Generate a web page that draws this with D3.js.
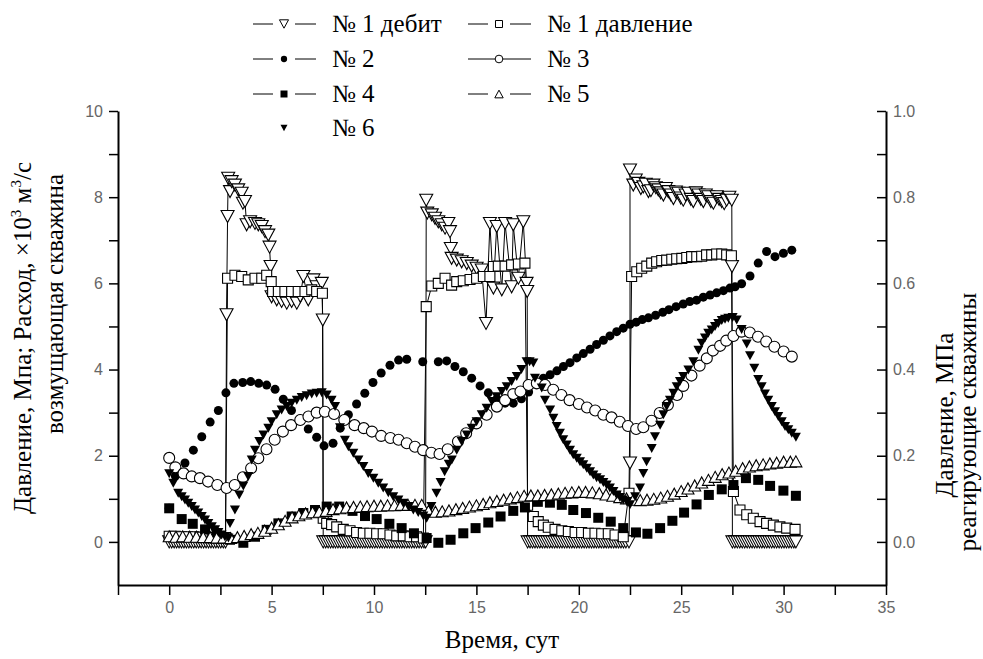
<!DOCTYPE html>
<html>
<head>
<meta charset="utf-8">
<script src="https://cdn.jsdelivr.net/npm/d3@7"></script>
</head>
<body style="margin:0">
<svg id="plot" width="983" height="659"></svg>
<script>
// Disturbing well No 1: debit (x10^3 m3/s) and pressure (MPa), left axis
const debit1 = [
  [0,0],[0.12,0],[0.24,0],[0.36,0],[0.48,0],[0.6,0],[0.72,0],[0.84,0],[0.96,0],[1.08,0],[1.2,0],[1.32,0],[1.44,0],
  [1.56,0],[1.68,0],[1.8,0],[1.92,0],[2.04,0],[2.16,0],[2.28,0],[2.4,0],[2.52,0],[2.64,0],[2.75,0],
  [2.8,5.27],[2.85,7.55],[2.88,8.44],[2.97,8.13],[3.05,8.36],[3.21,8.28],[3.37,8.17],[3.54,8.09],[3.6,7.86],[3.7,7.9],
  [3.78,7.36],[3.95,7.43],[4.19,7.39],[4.35,7.36],[4.52,7.32],[4.68,7.2],[4.84,7.12],[4.9,6.84],[4.95,6.39],[5.0,5.69],
  [5.25,5.62],[5.49,5.58],[5.74,5.54],[5.98,5.58],[6.23,5.54],[6.4,5.7],[6.55,6.16],[6.79,5.62],[7.04,6.08],[7.2,5.92],
  [7.45,6.0],[7.5,5.15],
  [7.52,0],[7.64,0],[7.76,0],[7.88,0],[8.0,0],[8.12,0],[8.24,0],[8.36,0],[8.48,0],[8.6,0],[8.72,0],[8.84,0],[8.96,0],
  [9.08,0],[9.2,0],[9.32,0],[9.44,0],[9.56,0],[9.68,0],[9.8,0],[9.92,0],[10.04,0],[10.16,0],[10.28,0],[10.4,0],
  [10.52,0],[10.64,0],[10.76,0],[10.88,0],[11.0,0],[11.12,0],[11.24,0],[11.36,0],[11.48,0],[11.6,0],[11.72,0],
  [11.84,0],[11.96,0],[12.08,0],[12.2,0],[12.32,0],[12.44,0],[12.52,0],
  [12.55,7.93],[12.6,7.63],[12.82,7.59],[12.98,7.51],[13.14,7.43],[13.31,7.36],[13.47,7.28],[13.63,7.39],[13.71,7.2],
  [13.75,6.81],[13.79,6.58],[14.04,6.54],[14.28,6.5],[14.53,6.46],[14.77,6.4],[15.01,6.35],[15.26,6.31],[15.47,5.07],
  [15.66,7.39],[15.83,5.89],[15.99,7.32],[16.24,5.85],[16.4,7.39],[16.72,5.92],[16.8,7.36],[17.05,6.12],[17.29,7.43],
  [17.45,6.0],[17.48,5.81],
  [17.5,0],[17.62,0],[17.74,0],[17.86,0],[17.98,0],[18.1,0],[18.22,0],[18.34,0],[18.46,0],[18.58,0],[18.7,0],
  [18.82,0],[18.94,0],[19.06,0],[19.18,0],[19.3,0],[19.42,0],[19.54,0],[19.66,0],[19.78,0],[19.9,0],[20.02,0],
  [20.14,0],[20.26,0],[20.38,0],[20.5,0],[20.62,0],[20.74,0],[20.86,0],[20.98,0],[21.1,0],[21.22,0],[21.34,0],
  [21.46,0],[21.58,0],[21.7,0],[21.82,0],[21.94,0],[22.06,0],[22.18,0],[22.3,0],[22.45,0],
  [22.5,1.83],[22.5,8.63],[22.66,8.28],[22.78,8.4],[22.91,8.32],[23.03,8.2],[23.15,8.24],[23.27,8.3],[23.4,8.13],[23.52,8.15],
  [23.64,8.28],[23.76,8.22],[23.88,8.17],[24.0,8.1],[24.13,8.05],[24.25,8.2],[24.37,8.13],[24.5,8.05],[24.62,7.97],[24.74,8.12],
  [24.86,8.09],[24.98,7.98],[25.1,7.93],[25.22,8.05],[25.35,8.09],[25.47,7.95],[25.59,7.9],[25.72,8.1],[25.84,8.05],[25.96,7.95],
  [26.08,7.9],[26.2,8.05],[26.32,8.01],[26.45,7.9],[26.57,7.86],[26.73,8.01],[26.85,7.95],[26.98,7.9],[27.1,7.85],[27.22,7.93],
  [27.35,8.0],[27.47,7.93],[27.48,6.39],
  [27.5,0],[27.62,0],[27.74,0],[27.86,0],[27.98,0],[28.1,0],[28.22,0],[28.34,0],[28.46,0],[28.58,0],[28.7,0],
  [28.82,0],[28.94,0],[29.06,0],[29.18,0],[29.3,0],[29.42,0],[29.54,0],[29.66,0],[29.78,0],[29.9,0],[30.02,0],
  [30.14,0],[30.26,0],[30.38,0],[30.5,0],[30.6,0]
];

const pressure1 = [
  [0,0.13],[0.3,0.13],[0.6,0.12],[0.9,0.12],[1.2,0.12],[1.5,0.11],[1.8,0.11],[2.1,0.1],[2.4,0.1],[2.75,0.1],
  [2.85,6.12],[3.21,6.19],[3.54,6.16],[3.86,6.08],[4.19,6.12],[4.52,6.12],[4.76,6.19],[4.98,6.04],[5.05,5.81],[5.33,5.81],
  [5.65,5.81],[5.98,5.81],[6.3,5.81],[6.63,5.81],[6.96,5.85],[7.2,5.81],[7.48,5.77],
  [7.52,0.55],[7.69,0.43],[7.93,0.4],[8.18,0.35],[8.5,0.29],[8.83,0.26],[9.15,0.22],[9.48,0.2],[9.8,0.2],[10.13,0.19],
  [10.45,0.19],[10.78,0.16],[11.11,0.14],[11.43,0.14],[11.76,0.12],[12.08,0.12],[12.41,0.09],
  [12.55,5.46],[12.82,5.94],[13.14,6.0],[13.47,6.12],[13.79,5.96],[14.04,6.04],[14.36,6.06],[14.69,6.09],[15.01,6.12],
  [15.34,6.16],[15.66,6.16],[15.83,6.39],[16.07,6.4],[16.4,6.4],[16.72,6.43],[17.05,6.45],[17.37,6.47],
  [17.5,0.85],[17.78,0.59],[18.02,0.47],[18.27,0.39],[18.51,0.34],[18.84,0.29],[19.17,0.26],[19.49,0.24],[19.82,0.22],
  [20.14,0.22],[20.47,0.2],[20.79,0.2],[21.12,0.19],[21.44,0.19],[21.77,0.16],[22.17,0.12],
  [22.45,1.13],[22.58,6.16],[22.83,6.27],[23.07,6.35],[23.32,6.4],[23.56,6.47],[23.8,6.5],[24.05,6.53],[24.29,6.54],
  [24.54,6.56],[24.78,6.57],[25.03,6.58],[25.27,6.6],[25.51,6.62],[25.76,6.62],[26.0,6.63],[26.24,6.66],[26.49,6.66],
  [26.73,6.68],[26.98,6.68],[27.22,6.66],[27.45,6.64],
  [27.55,1.17],[27.87,0.74],[28.2,0.63],[28.52,0.55],[28.85,0.47],[29.17,0.43],[29.5,0.39],[29.82,0.35],[30.15,0.32],[30.56,0.29]
];

// Responding wells, pressure in MPa, right axis
const well2 = [
  [0,0.078],[0.3,0.153],[0.77,0.183],[1.18,0.213],[1.59,0.244],[2.0,0.278],[2.4,0.305],[2.77,0.346],[3.16,0.368],
  [3.59,0.37],[3.98,0.372],[4.37,0.368],[4.76,0.364],[5.17,0.354],[5.57,0.331],[5.97,0.305],[6.38,0.285],[6.79,0.262],
  [7.2,0.243],[7.56,0.223],[8.0,0.229],[8.35,0.264],[8.75,0.295],[9.15,0.32],[9.55,0.345],[9.95,0.37],[10.35,0.392],
  [10.78,0.41],[11.2,0.422],[11.6,0.424],[12.38,0.418],[13.14,0.418],[13.55,0.42],[13.95,0.407],[14.36,0.395],
  [14.77,0.38],[15.18,0.362],[15.58,0.346],[16.0,0.332],[16.4,0.322],[16.8,0.322],[17.2,0.332],[17.55,0.348],
  [17.9,0.365],[18.27,0.38],[18.6,0.388],[18.93,0.397],[19.25,0.407],[19.57,0.416],[19.9,0.427],[20.22,0.437],
  [20.55,0.447],[20.87,0.458],[21.2,0.468],[21.52,0.478],[21.85,0.488],[22.17,0.496],[22.5,0.505],[22.8,0.51],
  [23.1,0.516],[23.4,0.52],[23.75,0.526],[24.1,0.533],[24.4,0.539],[24.75,0.546],[25.1,0.552],[25.42,0.558],
  [25.75,0.561],[26.08,0.568],[26.41,0.573],[26.73,0.578],[27.06,0.583],[27.38,0.589],[27.63,0.592],[27.95,0.599],
  [28.36,0.617],[28.76,0.647],[29.17,0.674],[29.58,0.662],[29.99,0.67],[30.4,0.677]
];

const well3 = [
  [0,0.195],[0.3,0.173],[0.7,0.159],[1.1,0.152],[1.5,0.148],[1.9,0.14],[2.35,0.132],[2.8,0.125],[3.2,0.132],[3.6,0.15],
  [4.0,0.171],[4.35,0.194],[4.75,0.215],[5.15,0.237],[5.55,0.256],[5.95,0.271],[6.4,0.283],[6.8,0.291],[7.2,0.3],
  [7.6,0.302],[8.05,0.297],[8.55,0.283],[9.05,0.271],[9.5,0.264],[9.9,0.256],[10.35,0.246],[10.8,0.241],[11.2,0.237],
  [11.6,0.229],[12.0,0.221],[12.4,0.213],[12.8,0.207],[13.2,0.204],[13.6,0.215],[14.1,0.233],[14.5,0.252],[15.0,0.275],
  [15.5,0.295],[16.0,0.314],[16.4,0.329],[16.8,0.343],[17.15,0.349],[17.55,0.364],[17.95,0.368],[18.35,0.364],
  [18.75,0.353],[19.15,0.341],[19.55,0.329],[20.0,0.32],[20.4,0.312],[20.8,0.305],[21.2,0.295],[21.6,0.289],[22.0,0.279],
  [22.4,0.269],[22.8,0.262],[23.15,0.266],[23.55,0.281],[23.95,0.299],[24.35,0.318],[24.8,0.341],[25.1,0.362],
  [25.5,0.386],[25.9,0.409],[26.25,0.426],[26.55,0.444],[26.9,0.455],[27.2,0.467],[27.55,0.478],[27.95,0.488],
  [28.35,0.486],[28.75,0.476],[29.15,0.465],[29.55,0.453],[30.0,0.442],[30.4,0.43]
];

const well4 = [
  [0,0.078],[0.61,0.053],[1.15,0.042],[1.75,0.029],[2.32,0.02],[2.97,0.005],[3.62,-0.002],[4.19,0.012],[4.76,0.028],
  [5.33,0.043],[5.98,0.059],[6.55,0.067],[7.12,0.074],[7.69,0.082],[8.3,0.082],[8.95,0.072],[9.56,0.06],[10.13,0.053],
  [10.75,0.042],[11.35,0.032],[11.95,0.02],[12.57,0.009],[13.14,-0.002],[13.74,0.005],[14.36,0.02],[14.96,0.032],
  [15.58,0.045],[16.18,0.059],[16.8,0.072],[17.37,0.08],[18.0,0.093],[18.59,0.091],[19.17,0.086],[19.73,0.074],
  [20.35,0.067],[20.95,0.056],[21.56,0.047],[22.17,0.032],[22.79,0.022],[23.35,0.019],[23.97,0.032],[24.57,0.049],
  [25.14,0.068],[25.75,0.087],[26.35,0.109],[26.98,0.122],[27.55,0.132],[28.16,0.148],[28.76,0.144],[29.34,0.13],
  [29.99,0.119],[30.6,0.107]
];

const well5 = [
  [0,0.013],[0.33,0.012],[0.66,0.013],[1.0,0.012],[1.33,0.012],[1.66,0.011],[2.0,0.011],[2.33,0.01],[2.66,0.01],
  [3.0,0.009],[3.33,0.011],[3.66,0.014],[4.0,0.018],[4.33,0.021],[4.66,0.026],[5.0,0.033],[5.33,0.041],[5.66,0.049],
  [6.0,0.057],[6.33,0.062],[6.66,0.066],[7.0,0.069],[7.33,0.07],[7.66,0.072],[8.0,0.076],[8.33,0.078],[8.66,0.08],
  [9.0,0.081],[9.33,0.082],[9.66,0.083],[10.0,0.084],[10.33,0.084],[10.66,0.085],[11.0,0.085],[11.33,0.086],
  [11.66,0.086],[12.0,0.086],[12.33,0.086],[12.66,0.072],[13.0,0.07],[13.33,0.071],[13.66,0.073],[14.0,0.076],
  [14.33,0.079],[14.66,0.082],[15.0,0.085],[15.33,0.088],[15.66,0.092],[16.0,0.095],[16.33,0.098],[16.66,0.101],
  [17.0,0.104],[17.33,0.107],[17.66,0.108],[18.0,0.108],[18.33,0.109],[18.66,0.11],[19.0,0.112],[19.33,0.114],
  [19.66,0.115],[20.0,0.116],[20.33,0.116],[20.66,0.115],[21.0,0.113],[21.33,0.11],[21.66,0.107],[22.0,0.104],
  [22.33,0.101],[22.66,0.098],[23.0,0.097],[23.33,0.098],[23.66,0.1],[24.0,0.103],[24.33,0.107],[24.66,0.112],
  [25.0,0.118],[25.33,0.124],[25.66,0.131],[26.0,0.138],[26.33,0.144],[26.66,0.151],[27.0,0.157],[27.33,0.161],
  [27.66,0.165],[28.0,0.171],[28.33,0.175],[28.66,0.178],[29.0,0.18],[29.33,0.182],[29.66,0.184],[30.0,0.186],
  [30.33,0.186],[30.6,0.187]
];

const well6 = [
  [0,0.158],[0.2,0.136],[0.44,0.113],[0.61,0.105],[0.77,0.097],[0.93,0.09],[1.1,0.082],[1.26,0.074],[1.42,0.067],
  [1.59,0.059],[1.75,0.051],[1.91,0.043],[2.08,0.035],[2.24,0.028],[2.4,0.022],[2.56,0.016],[2.72,0.012],[2.89,0.009],
  [2.97,0.043],[3.21,0.074],[3.42,0.109],[3.62,0.13],[3.86,0.152],[4.03,0.19],[4.19,0.213],[4.4,0.233],[4.6,0.248],
  [4.84,0.264],[5.0,0.279],[5.25,0.295],[5.49,0.306],[5.74,0.314],[5.98,0.322],[6.23,0.329],[6.47,0.335],[6.71,0.339],
  [6.96,0.343],[7.2,0.345],[7.45,0.346],[7.69,0.341],[7.93,0.329],[8.1,0.314],[8.34,0.265],[8.58,0.236],[8.75,0.221],
  [8.99,0.206],[9.24,0.19],[9.48,0.175],[9.72,0.159],[9.97,0.148],[10.21,0.136],[10.45,0.125],[10.7,0.114],
  [10.94,0.105],[11.19,0.097],[11.43,0.09],[11.68,0.082],[11.92,0.074],[12.16,0.068],[12.41,0.06],[12.57,0.055],
  [12.8,0.082],[13.05,0.113],[13.25,0.138],[13.45,0.163],[13.65,0.18],[13.8,0.19],[14.04,0.213],[14.28,0.233],
  [14.53,0.248],[14.77,0.264],[15.01,0.279],[15.26,0.295],[15.5,0.31],[15.75,0.326],[15.99,0.337],[16.24,0.349],
  [16.48,0.36],[16.72,0.372],[16.97,0.384],[17.2,0.4],[17.45,0.418],[17.6,0.418],[17.78,0.415],[17.86,0.38],
  [18.19,0.357],[18.35,0.329],[18.6,0.306],[18.76,0.287],[18.92,0.268],[19.08,0.252],[19.24,0.237],[19.41,0.225],
  [19.57,0.213],[19.73,0.202],[19.9,0.194],[20.06,0.186],[20.22,0.179],[20.39,0.171],[20.55,0.163],[20.71,0.155],
  [20.87,0.149],[21.04,0.144],[21.2,0.138],[21.36,0.132],[21.52,0.125],[21.69,0.117],[21.85,0.109],[22.01,0.103],
  [22.17,0.097],[22.34,0.094],[22.5,0.086],[22.75,0.105],[22.99,0.125],[23.15,0.159],[23.31,0.186],[23.56,0.217],
  [23.72,0.244],[23.97,0.271],[24.13,0.295],[24.29,0.314],[24.45,0.329],[24.62,0.345],[24.78,0.36],[24.94,0.372],
  [25.1,0.384],[25.35,0.399],[25.59,0.418],[25.84,0.445],[26.0,0.461],[26.16,0.473],[26.32,0.484],[26.49,0.492],
  [26.65,0.5],[26.81,0.507],[26.98,0.514],[27.14,0.517],[27.3,0.519],[27.51,0.521],[27.71,0.515],[27.95,0.493],
  [28.2,0.459],[28.36,0.432],[28.57,0.403],[28.76,0.377],[28.93,0.36],[29.09,0.343],[29.25,0.329],[29.42,0.314],
  [29.58,0.302],[29.74,0.291],[29.91,0.279],[30.07,0.268],[30.23,0.26],[30.4,0.252],[30.6,0.243]
];

const xTickValues = [-2.5, 0, 2.5, 5, 7.5, 10, 12.5, 15, 17.5, 20, 22.5, 25, 27.5, 30, 32.5, 35];
const leftTickValues = [0, 1, 2, 3, 4, 5, 6, 7, 8, 9, 10];
const rightTickValues = [0, 0.1, 0.2, 0.3, 0.4, 0.5, 0.6, 0.7, 0.8, 0.9, 1.0];

const legendLabels = ['№ 1 дебит', '№ 1 давление', '№ 2', '№ 3', '№ 4', '№ 5', '№ 6'];

const svg = d3.select('#plot');

const x = d3.scaleLinear().domain([-2.5, 35]).range([118, 886]);
const yL = d3.scaleLinear().domain([-1, 10]).range([585, 111]);
const yR = d3.scaleLinear().domain([-0.1, 1.0]).range([585, 111]);

// marker shapes centred on 0,0
function shapePath(shape, w, h) {
  if (shape === 'triDown') return `M${-w/2},${-h/2}L${w/2},${-h/2}L0,${h/2}Z`;
  if (shape === 'triUp') return `M${-w/2},${h/2}L${w/2},${h/2}L0,${-h/2}Z`;
  if (shape === 'square') return `M${-w/2},${-w/2}h${w}v${w}h${-w}Z`;
  const r = w / 2;
  return `M${r},0A${r},${r} 0 1,1 ${-r},0A${r},${r} 0 1,1 ${r},0Z`;
}

const series = [
  { label: legendLabels[0], data: debit1,    y: yL, shape: 'triDown', w: 13, h: 12, fill: '#fff', line: true,  gap: true },
  { label: legendLabels[1], data: pressure1, y: yL, shape: 'square',  w: 10, h: 10, fill: '#fff', line: true,  gap: true },
  { label: legendLabels[2], data: well2,     y: yR, shape: 'circle',  w: 9,  h: 9,  fill: '#000', line: false, gap: true },
  { label: legendLabels[3], data: well3,     y: yR, shape: 'circle',  w: 11, h: 11, fill: '#fff', line: false, gap: false },
  { label: legendLabels[4], data: well4,     y: yR, shape: 'square',  w: 10, h: 10, fill: '#000', line: false, gap: true },
  { label: legendLabels[5], data: well5,     y: yR, shape: 'triUp',   w: 12, h: 11, fill: '#fff', line: false, gap: true },
  { label: legendLabels[6], data: well6,     y: yR, shape: 'triDown', w: 10, h: 9,  fill: '#000', line: false, gap: null }
];

// Axes
const bottomAxis = d3.axisBottom(x)
  .tickValues(xTickValues)
  .tickSize(10).tickSizeOuter(0).tickPadding(7)
  .tickFormat(d => d >= 0 && d % 5 === 0 ? d : '');
const leftAxis = d3.axisLeft(yL)
  .tickValues(leftTickValues)
  .tickSize(9).tickSizeOuter(0).tickPadding(6)
  .tickFormat(d => d % 2 === 0 ? d : '');
const rightAxis = d3.axisRight(yR)
  .tickValues(rightTickValues)
  .tickSize(-9).tickSizeOuter(0).tickPadding(7)
  .tickFormat(d => Math.round(d * 10) % 2 === 0 ? d3.format('.1f')(d) : '');

function styleAxis(g) {
  g.attr('font-family', 'Liberation Sans').attr('font-size', 16);
  g.select('.domain').attr('stroke', '#000').attr('stroke-width', 2);
  g.selectAll('.tick line').attr('stroke', '#000').attr('stroke-width', 1.5);
  g.selectAll('.tick text').attr('fill', '#666');
}

svg.append('g').attr('transform', 'translate(0,585)').call(bottomAxis).call(styleAxis);
svg.append('g').attr('transform', 'translate(118,0)').call(leftAxis).call(styleAxis);
svg.append('g').attr('transform', 'translate(886,0)').call(rightAxis).call(styleAxis);

// Lines (only the disturbing well shows connecting lines)
const lineLayer = svg.append('g');
series.filter(s => s.line).forEach(s => {
  lineLayer.append('path')
    .datum(s.data)
    .attr('fill', 'none')
    .attr('stroke', '#000')
    .attr('stroke-width', 1)
    .attr('d', d3.line().x(d => x(d[0])).y(d => s.y(d[1])));
});

// Markers
series.forEach(s => {
  svg.append('g')
    .selectAll('path')
    .data(s.data)
    .enter().append('path')
    .attr('transform', d => `translate(${x(d[0])},${s.y(d[1])})`)
    .attr('d', shapePath(s.shape, s.w, s.h))
    .attr('fill', s.fill)
    .attr('stroke', s.fill === '#000' ? 'none' : '#000')
    .attr('stroke-width', 1.1);
});

// Legend
const legendPos = [
  [253, 24], [468, 24],
  [253, 59], [468, 59],
  [253, 94], [468, 94],
  [253, 128]
];
const legend = svg.append('g');
series.forEach((s, i) => {
  const [lx, ly] = legendPos[i];
  const cx = lx + 31;
  if (s.gap === true) {
    legend.append('line').attr('x1', lx).attr('x2', cx - 11).attr('y1', ly).attr('y2', ly).attr('stroke', '#000');
    legend.append('line').attr('x1', cx + 11).attr('x2', lx + 63).attr('y1', ly).attr('y2', ly).attr('stroke', '#000');
  } else if (s.gap === false) {
    legend.append('line').attr('x1', lx).attr('x2', lx + 63).attr('y1', ly).attr('y2', ly).attr('stroke', '#000');
  }
  legend.append('path')
    .attr('transform', `translate(${cx},${ly})`)
    .attr('d', shapePath(s.shape, s.w * 0.7, s.h * 0.7))
    .attr('fill', s.fill)
    .attr('stroke', s.fill === '#000' ? 'none' : '#000');
  legend.append('text')
    .attr('x', lx + 79).attr('y', ly + 8)
    .attr('font-family', 'Liberation Serif')
    .attr('font-size', 25)
    .text(s.label);
});

// Axis titles
function title(transform) {
  return svg.append('text')
    .attr('transform', transform)
    .attr('text-anchor', 'middle')
    .attr('font-family', 'Liberation Serif')
    .attr('font-size', 25);
}

title('translate(502,648)').text('Время, сут');

const lt1 = title('translate(31,338) rotate(-90)');
lt1.append('tspan').text('Давление, Мпа; Расход, ×10');
lt1.append('tspan').attr('font-size', 15).attr('dy', -10).text('3');
lt1.append('tspan').attr('dy', 10).text(' м');
lt1.append('tspan').attr('font-size', 15).attr('dy', -10).text('3');
lt1.append('tspan').attr('dy', 10).text('/с');

title('translate(63,304) rotate(-90)').text('возмущающая скважина');
title('translate(953,415) rotate(-90)').text('Давление, МПа');
title('translate(976,422) rotate(-90)').text('реагирующие скважины');
</script>
</body>
</html>
